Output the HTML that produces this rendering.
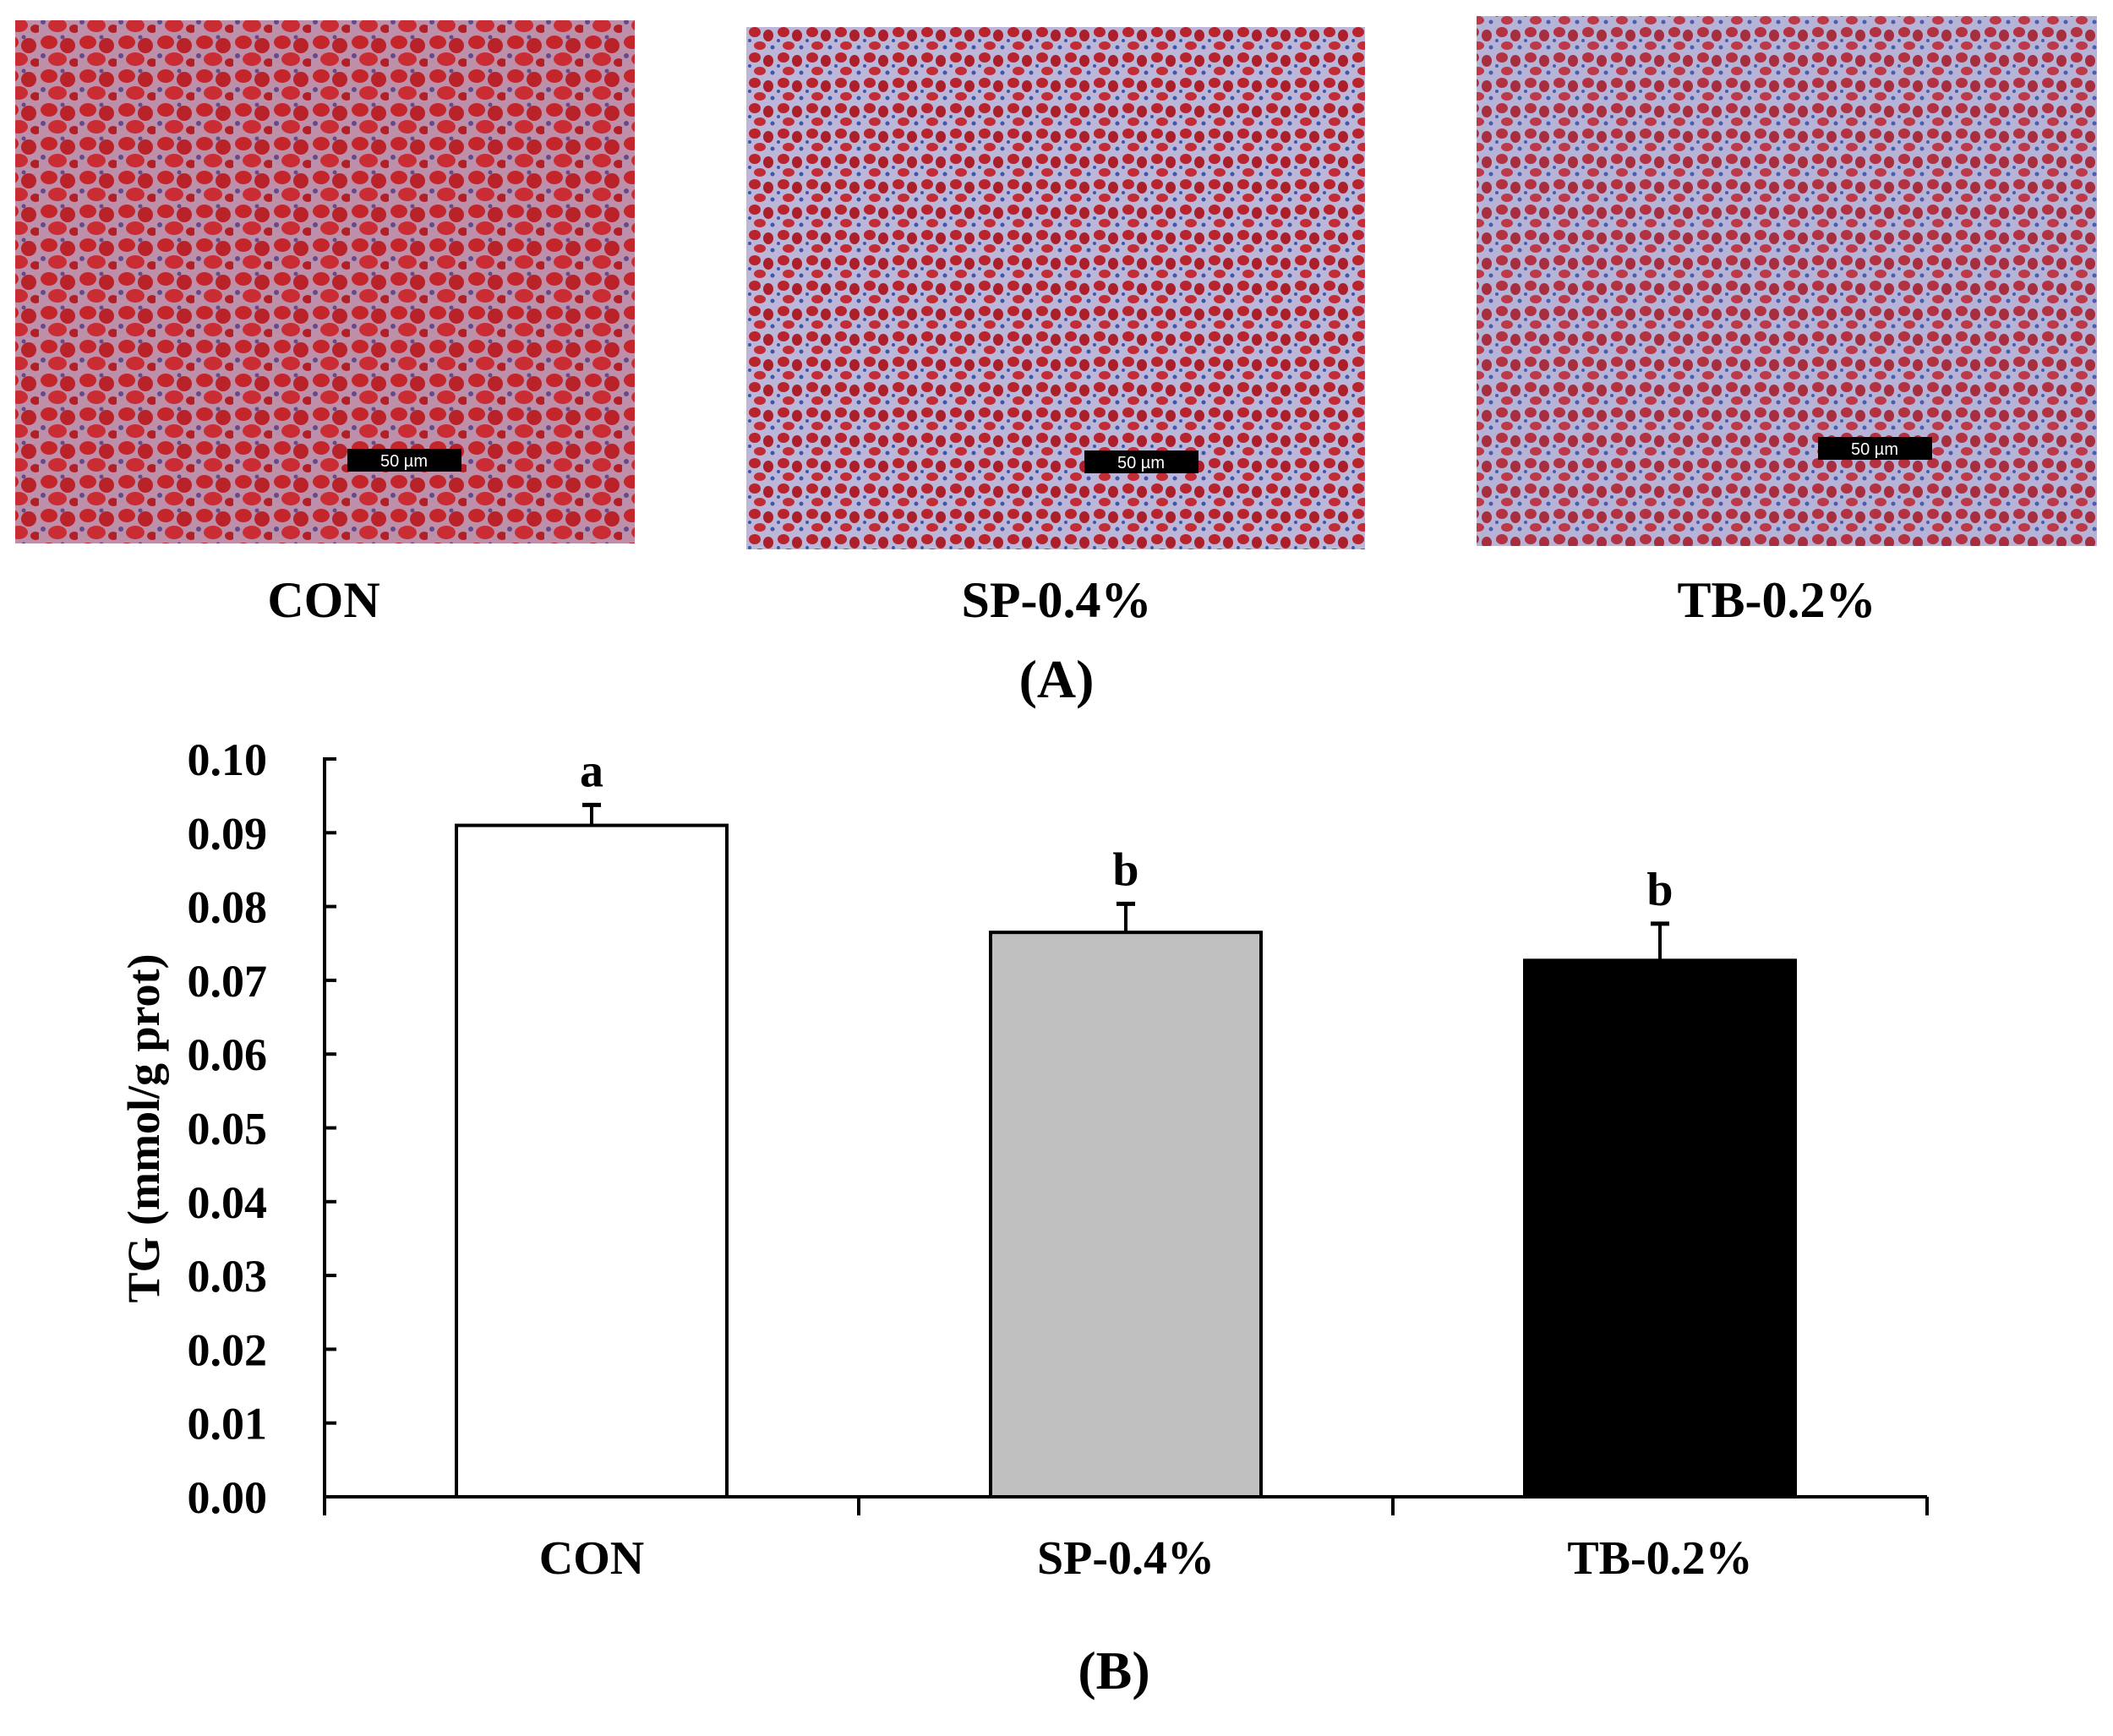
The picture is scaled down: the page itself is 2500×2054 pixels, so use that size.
<!DOCTYPE html>
<html><head><meta charset="utf-8"><style>
html,body{margin:0;padding:0;background:#fff;}
body{width:2500px;height:2049px;overflow:hidden;position:relative;font-family:"Liberation Serif",serif;}
svg text{font-family:"Liberation Serif",serif;font-weight:bold;fill:#000;}
</style></head><body>
<svg id="fig" width="2500" height="2049" viewBox="0 0 2500 2049" xmlns="http://www.w3.org/2000/svg">
<defs>
<pattern id="tissue" width="46" height="40" patternUnits="userSpaceOnUse">
<rect width="46" height="40" fill="#b9b4d6"/>
<ellipse cx="12" cy="10" rx="10" ry="8" fill="#c0272f"/>
<ellipse cx="34" cy="14" rx="9" ry="9" fill="#b3232c"/>
<ellipse cx="22" cy="30" rx="11" ry="8" fill="#c9303a"/>
<ellipse cx="42" cy="34" rx="6" ry="5" fill="#a81f2a"/>
<circle cx="5" cy="26" r="3" fill="#3f58b0"/>
<circle cx="28" cy="4" r="2.5" fill="#3f58b0"/>
</pattern>
<pattern id="tissue2" width="34" height="30" patternUnits="userSpaceOnUse">
<rect width="34" height="30" fill="#bcb7d8"/>
<ellipse cx="9" cy="8" rx="7" ry="6" fill="#b8242e"/>
<ellipse cx="25" cy="12" rx="6" ry="7" fill="#aa1f2a"/>
<ellipse cx="15" cy="24" rx="7" ry="5" fill="#c22c36"/>
<circle cx="30" cy="26" r="2.5" fill="#3d56ad"/>
<circle cx="3" cy="18" r="2" fill="#3d56ad"/>
</pattern>
</defs>

<g>
<g>
<rect x="18" y="24" width="733" height="619" fill="url(#tissue)"/>
<rect x="18" y="24" width="733" height="619" fill="#d02020" opacity="0.25"/>
<rect x="411" y="531" width="135" height="27" fill="#000"/>
<text x="478" y="552" font-size="20" text-anchor="middle" style="fill:#fff;font-weight:normal;font-family:'Liberation Sans',sans-serif">50 µm</text>
</g>
<g>
<rect x="883" y="32" width="732" height="618" fill="url(#tissue2)"/>
<rect x="1283" y="533" width="135" height="27" fill="#000"/>
<text x="1350" y="554" font-size="20" text-anchor="middle" style="fill:#fff;font-weight:normal;font-family:'Liberation Sans',sans-serif">50 µm</text>
</g>
<g>
<rect x="1747" y="19" width="734" height="627" fill="url(#tissue2)"/>
<rect x="1747" y="19" width="734" height="627" fill="#8fa0d8" opacity="0.12"/>
<rect x="2151" y="517" width="135" height="27" fill="#000"/>
<text x="2218" y="538" font-size="20" text-anchor="middle" style="fill:#fff;font-weight:normal;font-family:'Liberation Sans',sans-serif">50 µm</text>
</g>
<text x="383" y="730" font-size="60" text-anchor="middle">CON</text>
<text x="1250" y="730" font-size="60" text-anchor="middle">SP-0.4%</text>
<text x="2102" y="730" font-size="60" text-anchor="middle">TB-0.2%</text>
<text x="1250" y="825" font-size="64" text-anchor="middle">(A)</text>
</g>

<g id="chart"></g>
<text transform="translate(188,1335) rotate(-90)" font-size="54" text-anchor="middle">TG (mmol/g prot)</text>
<text x="1318" y="1998" font-size="64" text-anchor="middle">(B)</text>
</svg>
<script>
const categories = ["CON", "SP-0.4%", "TB-0.2%"];
const means = [0.091, 0.0765, 0.0727];
const errors = [0.003, 0.0041, 0.0052];
const letters = ["a", "b", "b"];
const fills = ["#ffffff", "#c0c0c0", "#000000"];
const yTicks = [0.00, 0.01, 0.02, 0.03, 0.04, 0.05, 0.06, 0.07, 0.08, 0.09, 0.10];

const NS = "http://www.w3.org/2000/svg";
const g = document.getElementById("chart");
const X0 = 384, X1 = 2280, Y0 = 1771, Y1 = 898, YMAX = 0.10;
const y = v => Y0 - (v / YMAX) * (Y0 - Y1);
const band = (X1 - X0) / categories.length;
const xc = i => X0 + band * (i + 0.5);
const BW = 320;
function mk(tag, attrs) { const e = document.createElementNS(NS, tag); for (const k in attrs) e.setAttribute(k, attrs[k]); g.appendChild(e); return e; }

let e = mk("line", {x1: X0, y1: y(YMAX) - 2, x2: X0, y2: Y0 + 22, stroke: "#000", "stroke-width": 4});


e = mk("line", {x1: X0, y1: Y0, x2: X1, y2: Y0, stroke: "#000", "stroke-width": 4});


for (let i = 1; i <= categories.length; i++) {
  e = mk("line", {x1: X0 + band * i, y1: Y0, x2: X0 + band * i, y2: Y0 + 22, stroke: "#000", "stroke-width": 4});
  
  
}
yTicks.forEach(t => {
  const ty = y(t);
  let l = mk("line", {x1: X0, y1: ty, x2: X0 + 14, y2: ty, stroke: "#000", "stroke-width": 4});
  
  
  let tx = mk("text", {x: 316, y: ty + 19, "font-size": 54, "text-anchor": "end"});
  tx.textContent = t.toFixed(2);
  
  
});
categories.forEach((c, i) => {
  const cx = xc(i);
  let r = mk("rect", {x: cx - BW / 2, y: y(means[i]), width: BW, height: Y0 - y(means[i]), fill: fills[i], stroke: "#000", "stroke-width": 4});
  
  
  const et = y(means[i] + errors[i]);
  let el = mk("line", {x1: cx, y1: y(means[i]), x2: cx, y2: et, stroke: "#000", "stroke-width": 4});
  
  
  let cap = mk("line", {x1: cx - 11, y1: et + 2, x2: cx + 11, y2: et + 2, stroke: "#000", "stroke-width": 5});
  
  
  let lt = mk("text", {x: cx, y: et - 20, "font-size": 56, "text-anchor": "middle"});
  lt.textContent = letters[i];
  
  
  let xl = mk("text", {x: cx, y: 1862, "font-size": 56, "text-anchor": "middle"});
  xl.textContent = c;
  
  
});
</script>
</body></html>
